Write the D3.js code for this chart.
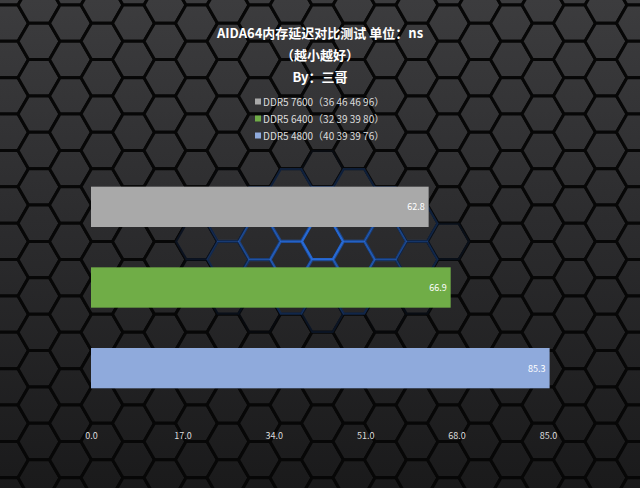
<!DOCTYPE html>
<html><head><meta charset="utf-8">
<script src="https://cdn.jsdelivr.net/npm/d3@7/dist/d3.min.js"></script>
<style>html,body{margin:0;padding:0;background:#111;}svg{display:block;}</style>
</head><body>
<script>
const categories = ["DDR5 7600", "DDR5 6400", "DDR5 4800"];
const timings = ["36 46 46 96", "32 39 39 80", "40 39 39 76"];
const values = [62.8, 66.9, 85.3];
const colors = ["#a9a9a9", "#70ad47", "#8faadc"];
const tickValues = [0, 17, 34, 51, 68, 85];
const titleLines = ["AIDA64内存延迟对比测试 单位：ns", "（越小越好）", "By：三哥"];

const W = 640, H = 488;
const svg = d3.select("body").append("svg").attr("width", W).attr("height", H);
const defs = svg.append("defs");
const g1 = defs.append("linearGradient").attr("id","bgGrad").attr("gradientUnits","userSpaceOnUse")
  .attr("x1",0).attr("y1",0).attr("x2",0).attr("y2",H);
g1.append("stop").attr("offset","0").attr("stop-color","#3c3c3e");
g1.append("stop").attr("offset","0.45").attr("stop-color","#2c2c2e");
g1.append("stop").attr("offset","1").attr("stop-color","#1a1a1b");

svg.append("rect").attr("width",W).attr("height",H).attr("fill","#080808");

// hex background (decorative)
const r = 21, hh = Math.sqrt(3)*r;
const hexPts = d3.range(6).map(i => [r*Math.cos(i*Math.PI/3), r*Math.sin(i*Math.PI/3)]);
const hexes = [];
for (let k = -2; k < 22; k++) {
  for (let j = -2; j < 16; j++) {
    const cx = 39 + 1.5*r*k;
    const cy = 5 + hh*j + (Math.abs(k)%2===1 ? hh/2 : 0);
    hexes.push([cx, cy]);
  }
}
const bg = svg.append("g");
bg.selectAll("polygon.h").data(hexes).join("polygon")
  .attr("points", d => hexPts.map(p => [d[0]+p[0], d[1]+p[1]].join(",")).join(" "))
  .attr("fill","url(#bgGrad)").attr("stroke","#070707").attr("stroke-width",3);
// blue glow edges near the centre
const gcx = 320, gcy = 245;
bg.selectAll("polygon.b").data(hexes.filter(d => {
    const dx=(d[0]-gcx)/140, dy=(d[1]-gcy)/80; return dx*dx+dy*dy < 1.2;}))
  .join("polygon")
  .attr("points", d => hexPts.map(p => [d[0]+p[0]*0.97, d[1]+p[1]*0.97].join(",")).join(" "))
  .attr("fill","none").attr("stroke","#2a6fe0").attr("stroke-width",2.2)
  .attr("stroke-opacity", d => {const dx=(d[0]-gcx)/140, dy=(d[1]-gcy)/80; return Math.max(0, 1 - Math.sqrt(dx*dx+dy*dy))*0.95;});

// title
const title = svg.append("g").attr("font-family","'Noto Sans CJK SC','Microsoft YaHei',sans-serif")
  .attr("font-weight","bold").attr("font-size",13).attr("fill","#ffffff").attr("text-anchor","middle");
title.selectAll("text").data(titleLines).join("text")
  .attr("x",320).attr("y",(d,i)=>38+i*22).text(d=>d);

// legend
const leg = svg.append("g").attr("font-family","'Noto Sans CJK SC','Microsoft YaHei',sans-serif")
  .attr("font-size",10).attr("fill","#dcdcdc");
categories.forEach((c,i)=>{
  const y = 102 + i*17;
  leg.append("rect").attr("x",255).attr("y",y-3.5).attr("width",6).attr("height",6).attr("fill",colors[i]);
  leg.append("text").attr("x",263).attr("y",y+3.5).text(c+"（"+timings[i]+"）");
});

// scales
const x = d3.scaleLinear().domain([0,85]).range([91,548]);
const y = d3.scaleBand().domain(categories).range([166.5,408.5]).paddingInner(0.5).paddingOuter(0.25);

const bars = svg.append("g");
bars.selectAll("rect").data(categories).join("rect")
  .attr("x", x(0)).attr("y", d=>y(d))
  .attr("width", (d,i)=>x(values[i])-x(0)).attr("height", y.bandwidth())
  .attr("fill",(d,i)=>colors[i]);
bars.selectAll("text").data(categories).join("text")
  .attr("x",(d,i)=>x(values[i])-4).attr("y",d=>y(d)+y.bandwidth()/2+3.5)
  .attr("text-anchor","end").attr("font-family","'Noto Sans CJK SC',sans-serif")
  .attr("font-size",9).attr("fill","#ffffff").text((d,i)=>values[i].toFixed(1));

// x axis
const axis = svg.append("g").attr("transform","translate(0,424)")
  .call(d3.axisBottom(x).tickValues(tickValues).tickFormat(d3.format(".1f")).tickSize(0).tickPadding(9));
axis.select(".domain").remove();
axis.selectAll("text").attr("fill","#dcdcdc").attr("font-size",9)
  .attr("font-family","'Noto Sans CJK SC',sans-serif");
</script>
</body></html>
